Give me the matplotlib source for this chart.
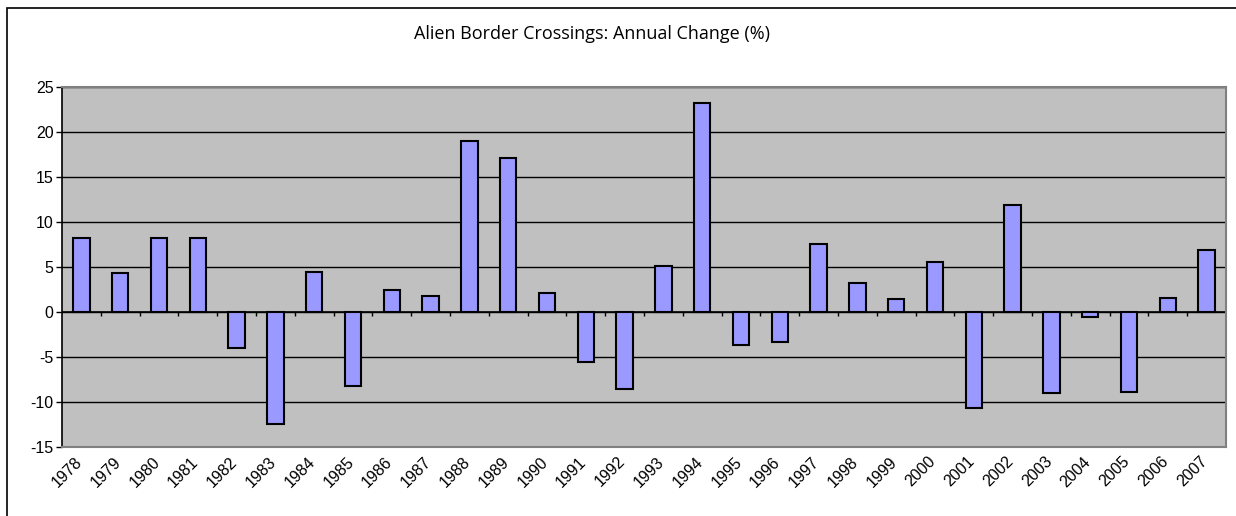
import matplotlib
matplotlib.use("Agg")
import matplotlib.pyplot as plt
import matplotlib.transforms as mtransforms
from matplotlib.patches import Rectangle
import numpy as np

plt.rcParams["axes.unicode_minus"] = False

years = [str(y) for y in range(1978, 2008)]
change = [8.2, 4.3, 8.2, 8.2, -4.0, -12.4, 4.4, -8.2, 2.4, 1.8,
          19.0, 17.1, 2.1, -5.6, -8.6, 5.1, 23.2, -3.7, -3.3, 7.6,
          3.2, 1.5, 5.6, -10.7, 11.9, -9.0, -0.6, -8.9, 1.6, 6.9]
yticks = [-15, -10, -5, 0, 5, 10, 15, 20, 25]

W, H = 1236, 516
fig = plt.figure(figsize=(W / 100, H / 100), dpi=100)
ax = fig.add_axes([62 / W, 1 - 447 / H, (1226 - 62) / W, (447 - 87) / H])

# outer chart border (only top/left visible in the crop)
fig.patches.append(Rectangle((7 / W, -0.02), 1.05, 1 - 8 / H + 0.02,
                             transform=fig.transFigure, fill=False,
                             edgecolor="black", linewidth=1.2))

ax.set_facecolor("#c0c0c0")
x = np.arange(len(years))
ax.bar(x, change, width=0.42, color="#9999ff", edgecolor="black",
       linewidth=1.5, zorder=3)

ax.set_xlim(-0.5, len(years) - 0.5)
ax.set_ylim(yticks[0], yticks[-1])
ax.set_yticks(yticks)
ax.yaxis.grid(True, color="black", linewidth=1.0, zorder=1)
ax.set_axisbelow(True)

# zero line with category tick marks
ax.axhline(0, color="black", linewidth=1.2, zorder=2)
ax.vlines(x[:-1] + 0.5, -0.45, 0, color="black", linewidth=1.0, zorder=2)

ax.set_xticks(x)
ax.set_xticklabels(years, rotation=45, ha="right", rotation_mode="anchor",
                   fontfamily="Liberation Sans", fontsize=11.5)
ax.tick_params(axis="x", length=0, pad=5)
shift = mtransforms.ScaledTranslation(-7 / 100, 0, fig.dpi_scale_trans)
for lab in ax.get_xticklabels():
    lab.set_transform(lab.get_transform() + shift)

ax.tick_params(axis="y", length=4, width=1, color="black", pad=2,
               labelsize=11.5)
for lab in ax.get_yticklabels():
    lab.set_fontfamily("Liberation Sans")

ax.spines["left"].set_color("black")
ax.spines["left"].set_linewidth(1.2)
for s in ["top", "right", "bottom"]:
    ax.spines[s].set_color("#808080")
    ax.spines[s].set_linewidth(1.5)

fig.text(592 / W, 1 - 34 / H, "Alien Border Crossings: Annual Change (%)",
         ha="center", va="center", fontfamily="Open Sans", fontsize=13)

fig.savefig("out.png", dpi=100)
